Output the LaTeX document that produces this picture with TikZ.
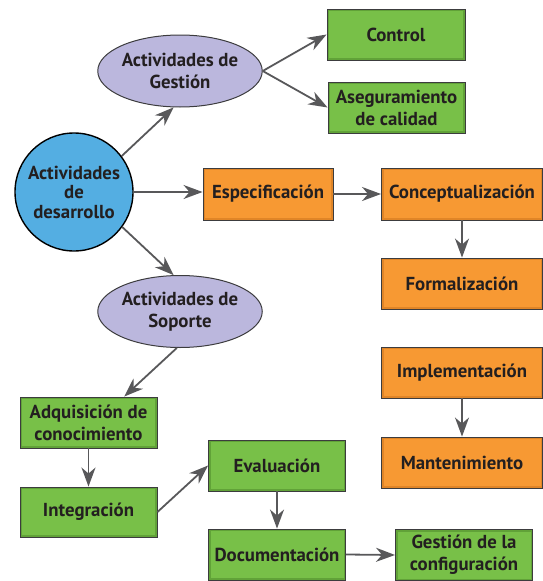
\documentclass[tikz,border=0pt]{standalone}
\usepackage{fontspec}
\setmainfont{PT Sans}
\usetikzlibrary{shapes.geometric,arrows.meta,calc}
\definecolor{boxgreen}{RGB}{120,192,72}
\definecolor{greenedge}{RGB}{88,150,50}
\definecolor{boxorange}{RGB}{247,153,51}
\definecolor{orangeedge}{RGB}{215,125,35}
\definecolor{lavender}{RGB}{187,183,221}
\definecolor{devblue}{RGB}{84,174,226}
\definecolor{txt}{RGB}{35,31,32}
\definecolor{arrowgray}{RGB}{88,88,90}
\definecolor{framegray}{RGB}{60,60,62}
\tikzset{
  base/.style={text=txt, font=\fontsize{18.8}{22}\selectfont\bfseries, align=center, inner sep=0pt},
  greenbox/.style={base, rectangle, fill=boxgreen, draw=framegray, line width=0.9pt,
    minimum width=137pt, minimum height=51pt,
    path picture={\draw[greenedge, opacity=0.7, line width=4pt] (path picture bounding box.south west) rectangle (path picture bounding box.north east);}},
  orangebox/.style={base, rectangle, fill=boxorange, draw=framegray, line width=0.9pt,
    minimum width=161pt, minimum height=51pt,
    path picture={\draw[orangeedge, opacity=0.7, line width=4pt] (path picture bounding box.south west) rectangle (path picture bounding box.north east);}},
  lavell/.style={base, ellipse, fill=lavender, draw=framegray, line width=1pt,
    minimum width=162pt, minimum height=72pt},
  devcircle/.style={base, circle, fill=devblue, draw=black, line width=1.4pt,
    minimum size=118pt, font=\fontsize{18.8}{19.5}\selectfont\bfseries},
  conn/.style={draw=arrowgray, line width=1.8pt, -{Stealth[length=19pt,width=14pt,inset=6pt]}}
}
\begin{document}
\begin{tikzpicture}[x=1pt,y=-1pt]
\useasboundingbox (0,0) rectangle (543,581);
\node[devcircle] (dev) at (74,192) {Actividades\\de\\desarrollo};
\node[lavell] (gest) at (180,71) {Actividades de\\Gestión};
\node[lavell] (sop) at (180,311.5) {Actividades de\\Soporte};
\node[greenbox, minimum width=138pt] (ctrl) at (396,34.5) {Control};
\node[greenbox] (aseg) at (396.5,107.5) {Aseguramiento\\de calidad};
\node[orangebox, minimum width=130pt, minimum height=52pt] (espec) at (268,194) {Especificación};
\node[orangebox, minimum height=52pt] (conc) at (462,194) {Conceptualización};
\node[orangebox] (form) at (462,283.5) {Formalización};
\node[orangebox] (impl) at (462,372.5) {Implementación};
\node[orangebox] (mant) at (462,462.5) {Mantenimiento};
\node[greenbox] (adq) at (88.5,422.5) {Adquisición de\\conocimiento};
\node[greenbox, minimum height=50pt] (integ) at (88.5,512) {Integración};
\node[greenbox] (eval) at (277,465.5) {Evaluación};
\node[greenbox] (doc) at (277,554.5) {Documentación};
\node[greenbox] (gconf) at (464,555) {Gestión de la\\configuración};

\draw[conn] (dev.37) -- (gest.260);
\draw[conn] (dev.east) -- (dev.east -| espec.west);
\draw[conn] (dev.-36) -- (sop.100);
\draw[conn] (gest.east) -- (ctrl.west);
\draw[conn] (gest.east) -- (aseg.west);
\draw[conn] (espec.east) -- (conc.west);
\draw[conn] (conc.south) -- (form.north);
\draw[conn] (impl.south) -- (mant.north);
\draw[conn] (sop.265) -- (adq.36);
\draw[conn] (adq.south) -- (integ.north);
\draw[conn] (integ.east) -- (eval.west);
\draw[conn] (eval.south) -- (doc.north);
\draw[conn] (doc.east) -- (gconf.west);
\end{tikzpicture}
\end{document}
